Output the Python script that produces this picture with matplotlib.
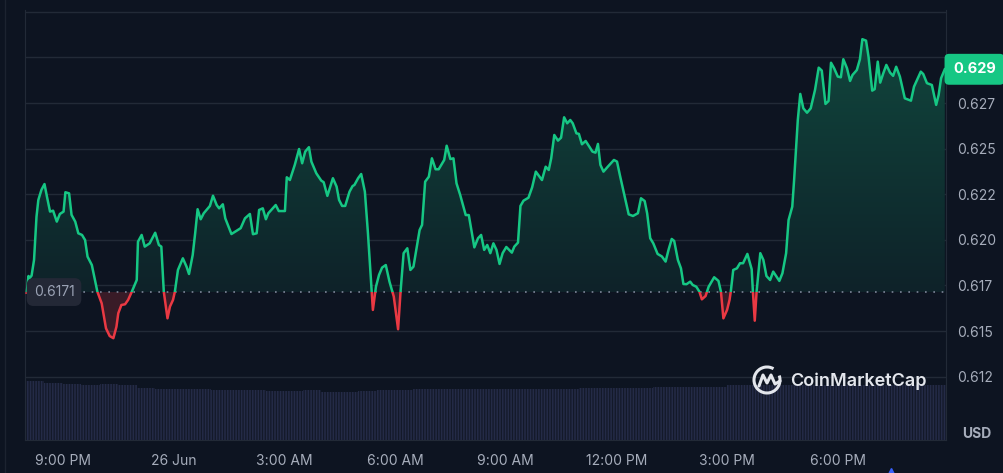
import numpy as np
import matplotlib.pyplot as plt
from matplotlib.patches import Rectangle, Arc, PathPatch
from matplotlib.path import Path
from matplotlib.colors import LinearSegmentedColormap
from matplotlib.transforms import blended_transform_factory

plt.rcParams['font.family'] = ['Inter', 'DejaVu Sans']

# minutes after 8:00 PM (25 Jun) and price in USD
minutes = [
    1, 4, 6, 9, 13, 17, 20, 25, 30, 34,
    39, 44, 50, 55, 61, 64, 70, 74, 80, 85,
    91, 96, 100, 107, 116, 123, 130, 136, 142, 147,
    150, 155, 161, 166, 172, 180, 182, 188, 193, 201,
    210, 216, 220, 224, 230, 234, 239, 242, 247, 255,
    261, 265, 271, 275, 279, 284, 289, 299, 304, 310,
    314, 320, 324, 334, 342, 349, 356, 364, 369, 375,
    379, 385, 390, 394, 406, 411, 421, 424, 429, 437,
    444, 449, 454, 460, 464, 472, 480, 484, 490, 499,
    505, 509, 514, 519, 526, 531, 534, 540, 545, 551,
    556, 562, 564, 569, 574, 579, 585, 591, 598, 605,
    609, 614, 620, 625, 630, 636, 640, 644, 649, 655,
    660, 666, 671, 680, 684, 690, 695, 700, 706, 715,
    720, 725, 729, 735, 740, 745, 750, 755, 760, 765,
    770, 775, 781, 790, 794, 800, 804, 809, 817,
    823, 829, 839, 845, 850, 854, 859, 865, 870, 875,
    880, 885, 889, 895, 899, 904, 910, 916, 921, 926,
    930, 934, 939, 946, 956, 961, 966, 972, 980, 987,
    995, 1000, 1006, 1010, 1015, 1020, 1027, 1034, 1040, 1045,
    1050, 1054, 1060, 1065, 1069, 1074, 1080, 1084, 1090, 1095,
    1099, 1105, 1110, 1119, 1126, 1130, 1134, 1140, 1144, 1146,
    1150, 1156, 1161, 1166, 1173, 1180, 1182, 1185, 1188, 1194,
    1199, 1204, 1210, 1215, 1221, 1225, 1230, 1236, 1240, 1246,
    1249, 1255, 1259, 1264, 1270, 1276, 1283, 1289, 1294, 1300,
    1305, 1309, 1314, 1320, 1325, 1329, 1335, 1340, 1344, 1351,
    1356, 1360, 1366, 1370, 1376, 1380, 1385, 1389, 1394, 1399,
    1405, 1410, 1415, 1421, 1429, 1439, 1444, 1455, 1459, 1465,
    1473, 1480, 1484, 1488, 1494,
]
price = [
    0.61710, 0.61802, 0.61791, 0.61804, 0.61890, 0.62127, 0.62219, 0.62274, 0.62306, 0.62237,
    0.62155, 0.62160, 0.62100, 0.62142, 0.62155, 0.62261, 0.62255, 0.62137, 0.62100, 0.62036,
    0.62027, 0.61999, 0.61908, 0.61862, 0.61716, 0.61652, 0.61515, 0.61473, 0.61461, 0.61524,
    0.61598, 0.61643, 0.61647, 0.61671, 0.61716, 0.61780, 0.61990, 0.62027, 0.61963, 0.61981,
    0.62039, 0.61972, 0.61963, 0.61716, 0.61570, 0.61634, 0.61671, 0.61716, 0.61835, 0.61899,
    0.61853, 0.61813, 0.61917, 0.62036, 0.62168, 0.62113, 0.62146, 0.62186, 0.62242, 0.62191,
    0.62173, 0.62195, 0.62118, 0.62032, 0.62049, 0.62064, 0.62118, 0.62142, 0.62031, 0.62036,
    0.62164, 0.62173, 0.62113, 0.62146, 0.62191, 0.62158, 0.62158, 0.62343, 0.62328, 0.62411,
    0.62498, 0.62420, 0.62484, 0.62508, 0.62429, 0.62365, 0.62325, 0.62316, 0.62241, 0.62338,
    0.62292, 0.62219, 0.62186, 0.62186, 0.62264, 0.62295, 0.62301, 0.62338, 0.62361, 0.62264,
    0.62036, 0.61716, 0.61616, 0.61743, 0.61808, 0.61848, 0.61862, 0.61771, 0.61689, 0.61510,
    0.61716, 0.61927, 0.61954, 0.61835, 0.61853, 0.61972, 0.62054, 0.62082, 0.62319, 0.62346,
    0.62447, 0.62387, 0.62387, 0.62438, 0.62516, 0.62443, 0.62447, 0.62310, 0.62246, 0.62136,
    0.62136, 0.62036, 0.61959, 0.62009, 0.62027, 0.61945, 0.61972, 0.61927, 0.61981, 0.61945,
    0.61868, 0.61927, 0.61961, 0.61930, 0.61963, 0.61985, 0.62186, 0.62215, 0.62231,
    0.62288, 0.62374, 0.62328, 0.62401, 0.62383, 0.62447, 0.62575, 0.62544, 0.62560, 0.62672,
    0.62639, 0.62657, 0.62639, 0.62584, 0.62581, 0.62524, 0.62542, 0.62511, 0.62484, 0.62478,
    0.62526, 0.62411, 0.62374, 0.62401, 0.62438, 0.62429, 0.62350, 0.62259, 0.62140, 0.62131,
    0.62146, 0.62228, 0.62213, 0.62146, 0.62009, 0.61981, 0.61923, 0.61909, 0.61881, 0.61948,
    0.62005, 0.61994, 0.61890, 0.61844, 0.61758, 0.61757, 0.61771, 0.61753, 0.61743, 0.61716,
    0.61674, 0.61692, 0.61743, 0.61795, 0.61775, 0.61716, 0.61570, 0.61616, 0.61671, 0.61716,
    0.61835, 0.61844, 0.61872, 0.61872, 0.61923, 0.61839, 0.61716, 0.61557, 0.61716, 0.61927,
    0.61890, 0.61802, 0.61780, 0.61826, 0.61795, 0.61775, 0.61817, 0.61927, 0.62109, 0.62182,
    0.62328, 0.62657, 0.62800, 0.62721, 0.62697, 0.62721, 0.62822, 0.62944, 0.62928, 0.62745,
    0.62761, 0.62971, 0.62941, 0.62895, 0.62891, 0.62990, 0.62941, 0.62871, 0.62904, 0.62931,
    0.62990, 0.63100, 0.63092, 0.63004, 0.62818, 0.62826, 0.62977, 0.62862, 0.62913, 0.62959,
    0.62917, 0.62899, 0.62949, 0.62895, 0.62776, 0.62763, 0.62840, 0.62922, 0.62909, 0.62859,
    0.62849, 0.62740, 0.62794, 0.62886, 0.62935,
]
open_price = 0.61714

# 24h volume (million USD), one value per 30 minutes
vol_start = np.arange(0, 1500, 30)
volume = [
    290, 283, 275, 273, 275, 272, 255, 250, 250, 250,
    245, 245, 245, 240, 242, 245, 238, 238, 239, 245,
    245, 250, 250, 250, 250, 250, 250, 250, 250, 250,
    255, 255, 255, 255, 260, 262, 262, 262, 270, 270,
    270, 270, 270, 270, 270, 270, 270, 270, 270, 270,
]

# the 0.630 label sits under the current-price badge
y_ticks = [0.6125, 0.6150, 0.6175, 0.6200, 0.6225, 0.6250, 0.6275, 0.6300, 0.6325]
y_labels = ['0.612', '0.615', '0.617', '0.620', '0.622', '0.625', '0.627', '', '']
x_ticks = [60, 240, 420, 600, 780, 960, 1140, 1320]
x_labels = ['9:00 PM', '26 Jun', '3:00 AM', '6:00 AM', '9:00 AM', '12:00 PM', '3:00 PM', '6:00 PM']

bg = '#0d1421'
green = '#16c784'
red = '#ea3943'
grid_c = '#222a37'
text_c = '#a6adbb'

t = np.array(minutes, dtype=float)
p = np.array(price)
xmin, xmax = -1.7, 1496
ymin, ymax = 0.60903, 0.63260

fig = plt.figure(figsize=(10.04, 4.73), dpi=100, facecolor=bg)
rect = [25 / 1004, 33 / 473, 921 / 1004, 430 / 473]

# volume bars underneath
axv = fig.add_axes(rect)
axv.set_facecolor(bg)
plt.rcParams['hatch.linewidth'] = 0.9
axv.bar(vol_start, volume, width=30, align='edge', color='#242b47',
        edgecolor='#131929', linewidth=0, hatch='||||||')
axv.set_xlim(xmin, xmax)
axv.set_ylim(0, max(volume) / 0.137)
axv.axis('off')

ax = fig.add_axes(rect)
ax.patch.set_visible(False)
ax.set_xlim(xmin, xmax)
ax.set_ylim(ymin, ymax)

# gradient fill above the open price
above = ax.fill_between(t, p, open_price, where=p >= open_price, interpolate=True,
                        facecolor='none', edgecolor='none')
clip = PathPatch(Path.make_compound_path(*above.get_paths()), transform=ax.transData,
                 facecolor='none', edgecolor='none')
ax.add_patch(clip)
cmap = LinearSegmentedColormap.from_list('g', ['#0e2229', '#114a3f'])
img = ax.imshow(np.linspace(0, 1, 256).reshape(-1, 1), extent=[xmin, xmax, open_price, ymax],
                origin='lower', aspect='auto', cmap=cmap, zorder=1)
img.set_clip_path(clip)
ax.fill_between(t, p, open_price, where=p < open_price, interpolate=True,
                facecolor=red, alpha=0.2, edgecolor='none', zorder=1)

# line, green above / red below open price
up, = ax.plot(t, p, color=green, lw=1.8, zorder=3, solid_joinstyle='round')
dn, = ax.plot(t, p, color=red, lw=1.8, zorder=3, solid_joinstyle='round')
up.set_clip_path(Rectangle((xmin, open_price), xmax - xmin, 1, transform=ax.transData))
dn.set_clip_path(Rectangle((xmin, open_price - 1), xmax - xmin, 1, transform=ax.transData))

ax.axhline(open_price, color='#7d8699', lw=1.2, ls=(0, (1, 4)), zorder=2)

ax.set_yticks(y_ticks)
ax.set_yticklabels(y_labels)
ax.yaxis.tick_right()
ax.set_xticks(x_ticks)
ax.set_xticklabels(x_labels)
ax.tick_params(axis='y', length=0, pad=8, labelcolor=text_c, labelsize=10)
ax.tick_params(axis='x', length=0, pad=10, labelcolor=text_c, labelsize=10)
ax.grid(axis='y', color=grid_c, lw=1)
ax.set_axisbelow(True)
for side in ['left', 'right', 'bottom']:
    ax.spines[side].set_color(grid_c)
ax.spines['top'].set_visible(False)

tr = blended_transform_factory(ax.transAxes, ax.transData)
ax.text(0.0315, open_price, '0.6171', transform=tr, ha='center', va='center',
        color='#9aa2b4', fontsize=10, zorder=5,
        bbox=dict(boxstyle='round,pad=0.5,rounding_size=0.5', fc='#232836', ec='none'))
ax.text(1.0 + 7 / 921, p[-1], '%.3f' % p[-1], transform=tr, ha='left', va='center',
        color='white', fontsize=10.5, fontweight='bold', zorder=5, clip_on=False,
        bbox=dict(boxstyle='round,pad=0.58,rounding_size=0.3', fc=green, ec='none'))

# overlay for frame, watermark and unit
ov = fig.add_axes([0, 0, 1, 1], zorder=10)
ov.set_xlim(0, 1004)
ov.set_ylim(473, 0)
ov.axis('off')
ov.plot([5, 5], [0, 473], color='#1c2330', lw=1)
ov.text(977, 434, 'USD', ha='center', va='center', color=text_c, fontsize=10, fontweight='bold')
ov.add_patch(Arc((767, 380), 26, 26, theta1=-20, theta2=300, color='#e3e6ec', lw=2.2))
ov.plot([759, 763, 767, 771, 775, 780], [386, 375, 383, 375, 384, 381], color='#e3e6ec',
        lw=2.2, solid_joinstyle='round', solid_capstyle='round')
ov.text(790, 381, 'CoinMarketCap', ha='left', va='center', color='#e3e6ec',
        fontsize=13, fontweight='semibold')
ov.plot([891], [472], marker='^', color='#3861fb', markersize=6, clip_on=False)

fig.savefig('out.png', dpi=100, facecolor=bg)
